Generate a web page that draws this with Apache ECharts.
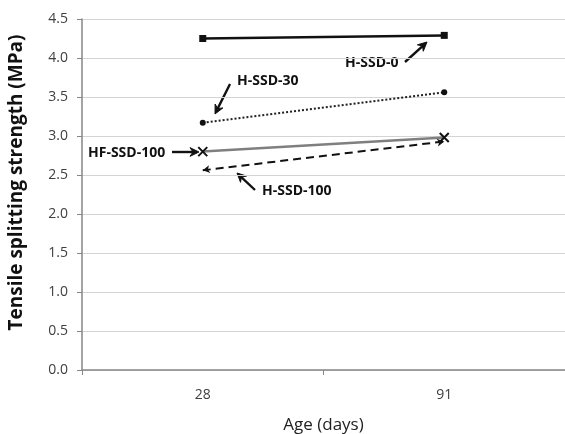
<!DOCTYPE html>
<html><head><meta charset="utf-8">
<script src="https://cdn.jsdelivr.net/npm/echarts@6/dist/echarts.min.js"></script>
<style>html,body{margin:0;padding:0;background:#fff}#c{width:565px;height:434px}</style>
</head><body><div id="c"></div>
<script>
var categories = ['28', '91'];
var hSSD0 = [4.25, 4.29];
var hSSD30 = [3.17, 3.56];
var hfSSD100 = [2.80, 2.98];
var hSSD100 = [2.56, 2.93];
var yTicks = [0, 0.5, 1.0, 1.5, 2.0, 2.5, 3.0, 3.5, 4.0, 4.5];

var chart = echarts.init(document.getElementById('c'));
var F = '"Open Sans", Lato, sans-serif';
function arrow(x1, y1, x2, y2) {
  var a = Math.atan2(y2 - y1, x2 - x1), L = 10, w = 0.45;
  return [
    {type:'line', shape:{x1:x1,y1:y1,x2:x2 - Math.cos(a)*3,y2:y2 - Math.sin(a)*3}, style:{stroke:'#111', lineWidth:2.4}},
    {type:'polygon', shape:{points:[[x2,y2],[x2-L*Math.cos(a-w),y2-L*Math.sin(a-w)],[x2-0.6*L*Math.cos(a),y2-0.6*L*Math.sin(a)],[x2-L*Math.cos(a+w),y2-L*Math.sin(a+w)]]}, style:{fill:'#111', stroke:'#111', lineWidth:1}}
  ];
}
function label(t, x, y) {
  return {type:'text', x:x, y:y, style:{text:t, font:'bold 14px ' + F, fill:'#111', textVerticalAlign:'middle'}};
}
var g = [].concat(
  [label('H-SSD-0', 345, 63)], arrow(405, 62, 427, 42),
  [label('H-SSD-30', 237, 81)], arrow(230, 84, 215, 114),
  [label('HF-SSD-100', 88, 153)], arrow(172, 152, 199, 152),
  [label('H-SSD-100', 262, 191)], arrow(255, 190, 237, 173)
);
chart.setOption({
  animation: false,
  grid: {left: 82, right: 0, top: 19, bottom: 64, containLabel: false, outerBoundsMode: 'none'},
  xAxis: {
    type: 'category', data: categories, boundaryGap: true,
    name: 'Age (days)', nameLocation: 'middle', nameGap: 47,
    nameTextStyle: {fontFamily: F, fontSize: 17, color: '#222'},
    axisLine: {lineStyle: {color: '#868686', width: 1.5}},
    axisTick: {show: true, length: 5, lineStyle: {color: '#868686'}},
    axisLabel: {fontFamily: F, fontSize: 14, color: '#404040', margin: 18}
  },
  yAxis: {
    type: 'value', min: 0, max: 4.5, interval: 0.5,
    name: 'Tensile splitting strength (MPa)', nameLocation: 'middle', nameGap: 56,
    nameTextStyle: {fontFamily: F, fontSize: 19, fontWeight: 'bold', color: '#111', padding: [0, 0, 0, 24]},
    axisLine: {show: true, lineStyle: {color: '#868686', width: 1.5}},
    axisTick: {show: true, inside: false, length: 5, lineStyle: {color: '#868686'}},
    axisLabel: {fontFamily: F, fontSize: 14, color: '#404040', margin: 14,
      formatter: function (v) { return v.toFixed(1); }},
    splitLine: {lineStyle: {color: '#d4d4d4', width: 1}}
  },
  series: [
    {name: 'H-SSD-0', type: 'line', data: hSSD0, symbol: 'rect', symbolSize: 7,
     lineStyle: {color: '#111', width: 2.5}, itemStyle: {color: '#111'}},
    {name: 'H-SSD-30', type: 'line', data: hSSD30, symbol: 'circle', symbolSize: 6,
     lineStyle: {color: '#222', width: 2, type: [2, 2]}, itemStyle: {color: '#111'}},
    {name: 'HF-SSD-100', type: 'line', data: hfSSD100, symbol: 'path://M0,0L10,10M10,0L0,10', symbolSize: 9,
     lineStyle: {color: '#7f7f7f', width: 2.5}, itemStyle: {color: 'none', borderColor: '#111', borderWidth: 2}},
    {name: 'H-SSD-100', type: 'line', data: hSSD100, symbol: 'arrow', symbolSize: [6, 7],
     symbolRotate: function (v, p) { return p.dataIndex === 0 ? 100 : -80; },
     lineStyle: {color: '#111', width: 2, type: [8, 5]}, itemStyle: {color: '#111'}}
  ],
  graphic: g
});
</script></body></html>
